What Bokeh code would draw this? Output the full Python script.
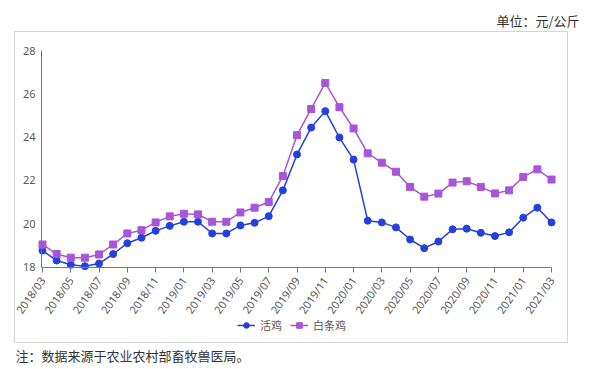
import math
from bokeh.plotting import figure
from bokeh.models import Range1d, FixedTicker, Legend, LegendItem, Title
from bokeh.embed import file_html
from bokeh.resources import INLINE

months = ["2018/03", "2018/04", "2018/05", "2018/06", "2018/07", "2018/08", "2018/09",
          "2018/10", "2018/11", "2018/12", "2019/01", "2019/02", "2019/03", "2019/04",
          "2019/05", "2019/06", "2019/07", "2019/08", "2019/09", "2019/10", "2019/11",
          "2019/12", "2020/01", "2020/02", "2020/03", "2020/04", "2020/05", "2020/06",
          "2020/07", "2020/08", "2020/09", "2020/10", "2020/11", "2020/12", "2021/01",
          "2021/02", "2021/03"]

live_chicken = [18.76, 18.30, 18.10, 18.04, 18.16, 18.60, 19.10, 19.35, 19.67, 19.90,
                20.09, 20.09, 19.55, 19.55, 19.92, 20.04, 20.35, 21.54, 23.20, 24.44, 25.20, 23.98,
                22.96, 20.14, 20.06, 19.83, 19.27, 18.87, 19.18, 19.74, 19.77, 19.58, 19.43, 19.60,
                20.28, 20.74, 20.06]

white_chicken = [19.04, 18.60, 18.43, 18.43, 18.58, 19.04, 19.55, 19.70, 20.06, 20.34,
                 20.46, 20.43, 20.09, 20.09, 20.52, 20.74, 21.00, 22.20, 24.09, 25.30, 26.50, 25.38,
                 24.40, 23.25, 22.82, 22.40, 21.70, 21.25, 21.39, 21.90, 21.96, 21.70, 21.40, 21.54,
                 22.16, 22.51, 22.04]

series_names = ["活鸡", "白条鸡"]
y_ticks = [18, 20, 22, 24, 26, 28]
unit_text = "单位：元/公斤"
note_text = "注：数据来源于农业农村部畜牧兽医局。"

x = list(range(len(months)))

BLUE = "#2440dd"
PURPLE = "#a855d6"
FONT = "Noto Sans"
CJK = "Noto Sans CJK SC"

# The frame is the light grey box; axes sit inside it at fixed locations.
p = figure(width=590, height=369, output_backend="svg", toolbar_location=None,
           x_range=Range1d(-1.98, 37.13), y_range=Range1d(14.513, 28.878),
           min_border_left=14, min_border_right=23, min_border_top=31, min_border_bottom=27)
p.outline_line_color = "#d4d4d4"
p.outline_line_width = 1
p.background_fill_color = "white"
p.border_fill_color = "white"
p.xgrid.visible = False
p.ygrid.visible = False

# axes
p.xaxis.fixed_location = 18
p.xaxis.bounds = (-0.07, 36)
p.xaxis.ticker = FixedTicker(ticks=x[::2])
p.xaxis.major_label_overrides = {i: months[i] for i in x}
p.xaxis.major_label_orientation = math.radians(55)
p.xaxis.minor_tick_line_color = None
p.xaxis.major_tick_in = 0
p.xaxis.major_tick_out = 5
p.xaxis.axis_line_color = "#777777"
p.xaxis.major_tick_line_color = "#777777"
p.xaxis.major_label_text_font = FONT
p.xaxis.major_label_text_font_size = "11px"
p.xaxis.major_label_text_color = "#595959"
p.xaxis.major_label_standoff = 6

p.yaxis.fixed_location = -0.07
p.yaxis.bounds = (18, 28)
p.yaxis.ticker = FixedTicker(ticks=y_ticks)
p.yaxis.minor_tick_line_color = None
p.yaxis.major_tick_in = 0
p.yaxis.major_tick_out = 0
p.yaxis.axis_line_color = "#777777"
p.yaxis.major_label_text_font = FONT
p.yaxis.major_label_text_font_size = "11px"
p.yaxis.major_label_text_color = "#595959"
p.yaxis.major_label_standoff = 6

l1 = p.line(x, live_chicken, line_color=BLUE, line_width=1.5)
s1 = p.scatter(x, live_chicken, marker="circle", size=7, fill_color=BLUE, line_color=BLUE)
l2 = p.line(x, white_chicken, line_color=PURPLE, line_width=1.5)
s2 = p.scatter(x, white_chicken, marker="square", size=7, fill_color=PURPLE, line_color=PURPLE)

legend = Legend(items=[LegendItem(label=series_names[0], renderers=[l1, s1]),
                       LegendItem(label=series_names[1], renderers=[l2, s2])],
                location=(223, 9), orientation="horizontal",
                label_text_font=CJK, label_text_font_size="11px", label_text_color="#595959",
                glyph_width=18, glyph_height=14, label_standoff=5, spacing=8,
                padding=0, margin=0, border_line_color=None, background_fill_alpha=0)
p.add_layout(legend, "center")

unit_title = Title(text=unit_text, align="right", offset=-12, standoff=4,
                   text_font=CJK, text_font_size="13px", text_font_style="normal",
                   text_color="#333333")
p.add_layout(unit_title, "above")

note_title = Title(text=note_text, align="left", offset=1, standoff=2,
                   text_font=CJK, text_font_size="13px", text_font_style="normal",
                   text_color="#333333")
p.add_layout(note_title, "below")

open("out.html", "w").write(file_html(p, INLINE))
